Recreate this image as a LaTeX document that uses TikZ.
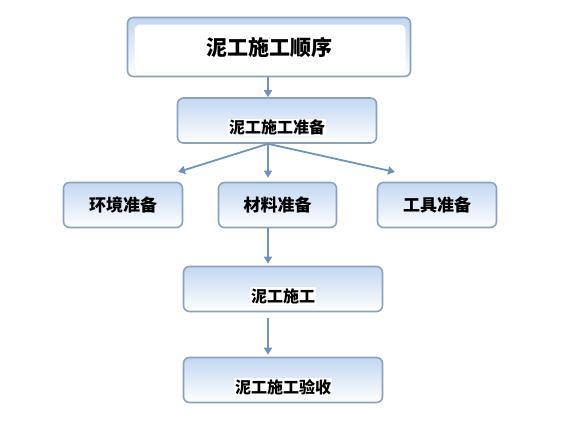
\documentclass[tikz,border=0pt]{standalone}
\usepackage{fontspec}
\newfontfamily\cjk{Noto Sans CJK SC}
\usetikzlibrary{arrows.meta}
\definecolor{frame}{HTML}{8BA1BE}
\definecolor{flow}{HTML}{6F93BA}
\definecolor{paleblue}{HTML}{C2D7F1}

\begin{document}
\begin{tikzpicture}[x=1pt,y=-1pt,
	stagebox/.style={draw=frame,line width=1.6pt,rounded corners=6pt,
		top color=paleblue,bottom color=white,minimum height=45pt,
		font=\cjk\bfseries\fontsize{17}{19}\selectfont},
	lowtext/.style={label={[yshift=-7pt,fill=white,inner sep=1pt,
		font=\cjk\bfseries\fontsize{16}{18}\selectfont]center:#1}},
	titlebox/.style={stagebox,minimum width=283pt,minimum height=59pt,
		font=\cjk\bfseries\fontsize{21}{24}\selectfont,
		path picture={\fill[white] ([shift={(7pt,-7pt)}]path picture bounding box.north west)
			rectangle ([shift={(-5pt,5pt)}]path picture bounding box.south east);}},
	flowarrow/.style={draw=flow,line width=1.8pt,-{Triangle[width=8pt,length=7pt]}}]
\useasboundingbox (0,0) rectangle (564,421);

\node[titlebox] (order) at (269,47) {泥工施工顺序};
\node[stagebox,minimum width=199pt,lowtext=泥工施工准备] (prep) at (277,120.5) {};
\node[stagebox,minimum width=119pt] (env) at (123,205) {环境准备};
\node[stagebox,minimum width=118pt] (mat) at (277.5,205) {材料准备};
\node[stagebox,minimum width=119pt] (tool) at (437,205) {工具准备};
\node[stagebox,minimum width=199pt,lowtext=泥工施工] (work) at (283,289) {};
\node[stagebox,minimum width=199pt,lowtext=泥工施工验收] (check) at (283,380) {};

\coordinate (axis) at (268,0);
\coordinate (envtip) at (178,172);
\coordinate (tooltip) at (395,172);

\draw[flowarrow] (order.south -| axis) -- (prep.north -| axis);
\draw[flowarrow] (prep.south -| axis) -- (envtip);
\draw[flowarrow,shorten >=4pt] (prep.south -| axis) -- (mat.north -| axis);
\draw[flowarrow] (prep.south -| axis) -- (tooltip);
\draw[flowarrow,shorten >=2pt] (mat.south -| axis) -- (work.north -| axis);
\draw[flowarrow,shorten <=6pt,shorten >=2pt] (work.south -| axis) -- (check.north -| axis);
\end{tikzpicture}
\end{document}
